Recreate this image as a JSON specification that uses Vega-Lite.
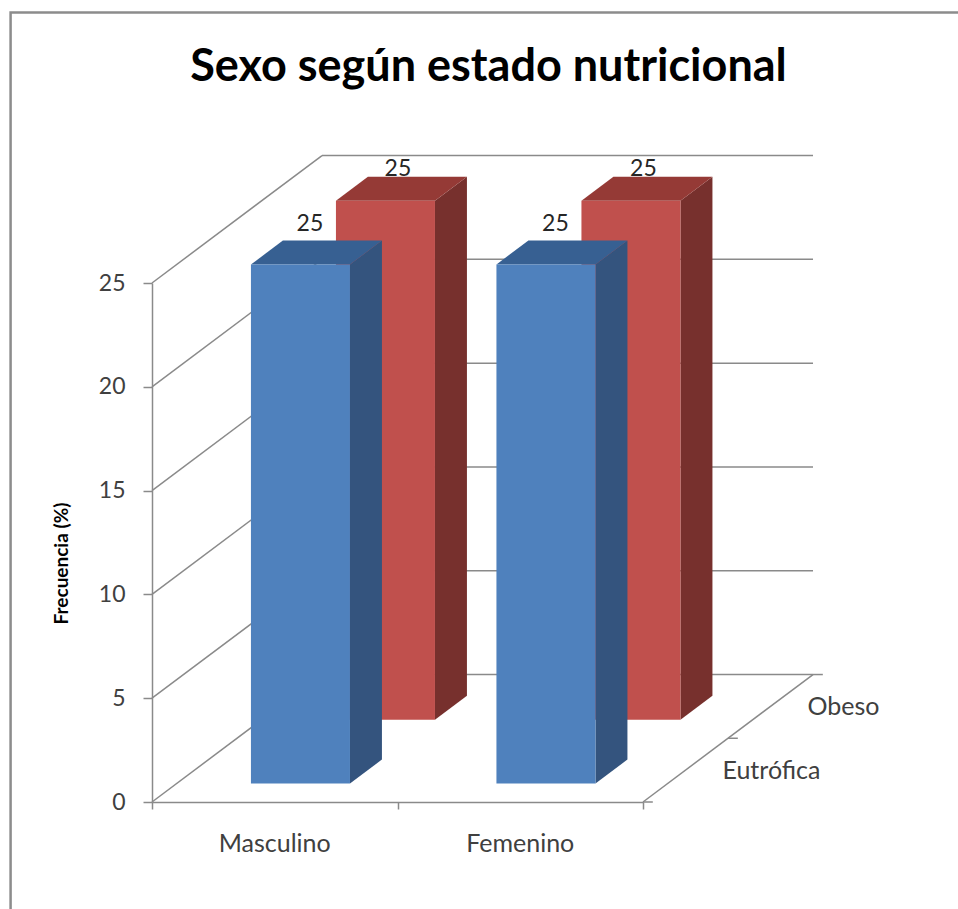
{
  "$schema": "https://vega.github.io/schema/vega-lite/v6.json",
  "autosize": "none",
  "width": 491,
  "height": 519,
  "padding": {"left": 152, "top": 283, "right": 315, "bottom": 107},
  "background": "white",
  "title": {
    "text": "Sexo según estado nutricional",
    "font": "Lato",
    "fontSize": 45,
    "fontWeight": "bold",
    "color": "#000000",
    "anchor": "middle",
    "dx": 91,
    "offset": -79
  },
  "config": {
    "view": {"stroke": null},
    "text": {"font": "Lato"},
    "rule": {"stroke": "#8a8a8a", "strokeWidth": 1.5}
  },
  "layer": [
    {
      "data": {"values": [{"marco": "borde"}]},
      "mark": {"type": "rect", "fill": null, "stroke": "#8c8c8c", "strokeWidth": 2.5},
      "encoding": {
        "x": {
          "datum": -0.576,
          "type": "quantitative",
          "scale": {"domain": [0, 2], "nice": false, "zero": false},
          "axis": {
            "title": null,
            "values": [0, 1, 2],
            "labels": false,
            "grid": false,
            "tickSize": 7,
            "tickWidth": 1.5,
            "tickColor": "#8a8a8a",
            "domainColor": "#8a8a8a",
            "domainWidth": 1.5
          }
        },
        "x2": {"datum": 4},
        "y": {
          "datum": 38.03,
          "type": "quantitative",
          "scale": {"domain": [0, 25], "nice": false, "zero": false},
          "axis": {
            "title": "Frecuencia (%)",
            "titleFont": "Lato",
            "titleFontSize": 19,
            "titleFontWeight": "bold",
            "titleColor": "#000000",
            "titleX": -81,
            "titleY": 280,
            "values": [0, 5, 10, 15, 20, 25],
            "grid": false,
            "tickSize": 9,
            "tickWidth": 1.5,
            "tickColor": "#8a8a8a",
            "domainColor": "#8a8a8a",
            "domainWidth": 1.5,
            "labelFont": "Lato",
            "labelFontSize": 23,
            "labelColor": "#404040",
            "labelPadding": 18
          }
        },
        "y2": {"datum": -7}
      }
    },
    {
      "data": {"values": [{"nivel": 0}, {"nivel": 5}, {"nivel": 10}, {"nivel": 15}, {"nivel": 20}, {"nivel": 25}]},
      "transform": [
        {"calculate": "0", "as": "frente"},
        {"calculate": "0.6925", "as": "fondo"},
        {"calculate": "2.6925", "as": "fondoDer"},
        {"calculate": "datum.nivel + 6.14", "as": "nivelFondo"}
      ],
      "layer": [
        {
          "mark": "rule",
          "encoding": {
            "x": {"field": "frente", "type": "quantitative"},
            "x2": {"field": "fondo"},
            "y": {"field": "nivel", "type": "quantitative"},
            "y2": {"field": "nivelFondo"}
          }
        },
        {
          "mark": "rule",
          "encoding": {
            "x": {"field": "fondo", "type": "quantitative"},
            "x2": {"field": "fondoDer"},
            "y": {"field": "nivelFondo", "type": "quantitative"}
          }
        }
      ]
    },
    {
      "data": {"values": [{"prof": 0}, {"prof": 0.5}, {"prof": 1}]},
      "transform": [
        {"calculate": "2 + 0.6925 * datum.prof", "as": "xBorde"},
        {"calculate": "datum.xBorde + 0.04", "as": "xMarca"},
        {"calculate": "6.14 * datum.prof", "as": "yBorde"},
        {"calculate": "2", "as": "xInicio"},
        {"calculate": "2.6925", "as": "xFin"},
        {"calculate": "0", "as": "yInicio"},
        {"calculate": "6.14", "as": "yFin"}
      ],
      "layer": [
        {
          "mark": "rule",
          "encoding": {
            "x": {"field": "xBorde", "type": "quantitative"},
            "x2": {"field": "xMarca"},
            "y": {"field": "yBorde", "type": "quantitative"}
          }
        },
        {
          "transform": [{"filter": "datum.prof === 0"}],
          "mark": "rule",
          "encoding": {
            "x": {"field": "xInicio", "type": "quantitative"},
            "x2": {"field": "xFin"},
            "y": {"field": "yInicio", "type": "quantitative"},
            "y2": {"field": "yFin"}
          }
        }
      ]
    },
    {
      "data": {
        "values": [
          {"sexo": "Masculino", "estado": "Eutrófica", "frecuencia": 25},
          {"sexo": "Masculino", "estado": "Obeso", "frecuencia": 25},
          {"sexo": "Femenino", "estado": "Eutrófica", "frecuencia": 25},
          {"sexo": "Femenino", "estado": "Obeso", "frecuencia": 25}
        ]
      },
      "transform": [
        {"calculate": "datum.sexo === 'Masculino' ? 0 : 1", "as": "cat"},
        {"calculate": "datum.estado === 'Obeso' ? 0.75 : 0.25", "as": "centroProf"},
        {"calculate": "datum.centroProf - 0.105", "as": "prof"},
        {"calculate": "[0, 1]", "as": "t"},
        {"flatten": ["t"]},
        {"calculate": "datum.prof + 0.188 * datum.t", "as": "pt"},
        {"calculate": "datum.cat + 0.3026 + 0.6925 * datum.pt", "as": "xIzq"},
        {"calculate": "datum.cat + 0.706 + 0.6925 * datum.pt", "as": "xDer"},
        {"calculate": "6.14 * datum.pt", "as": "yBase"},
        {"calculate": "datum.frecuencia + 6.14 * datum.pt", "as": "yTope"},
        {"calculate": "datum.cat + 0.5", "as": "xCat"},
        {"calculate": "0", "as": "cero"},
        {"calculate": "2 + 0.6925 * datum.centroProf", "as": "xEstado"},
        {"calculate": "6.14 * datum.centroProf", "as": "yEstado"}
      ],
      "layer": [
        {
          "transform": [{"filter": "datum.estado === 'Obeso'"}],
          "layer": [
            {
              "mark": {"type": "area", "orient": "vertical", "color": "#77302d"},
              "encoding": {
                "detail": {"field": "sexo"},
                "x": {"field": "xDer", "type": "quantitative"},
                "y": {"field": "yBase", "type": "quantitative", "stack": null},
                "y2": {"field": "yTope"}
              }
            },
            {
              "mark": {"type": "area", "orient": "horizontal", "color": "#953a36"},
              "encoding": {
                "detail": {"field": "sexo"},
                "y": {"field": "yTope", "type": "quantitative"},
                "x": {"field": "xIzq", "type": "quantitative", "stack": null},
                "x2": {"field": "xDer"}
              }
            },
            {
              "transform": [{"filter": "datum.t === 0"}],
              "mark": {"type": "rect", "color": "#c0504d"},
              "encoding": {
                "x": {"field": "xIzq", "type": "quantitative"},
                "x2": {"field": "xDer"},
                "y": {"field": "yBase", "type": "quantitative"},
                "y2": {"field": "yTope"}
              }
            },
            {
              "transform": [{"filter": "datum.t === 0"}],
              "mark": {"type": "text", "fontSize": 23, "color": "#262626", "align": "center", "baseline": "middle", "dx": 62, "dy": -32},
              "encoding": {
                "text": {"field": "frecuencia", "type": "quantitative"},
                "x": {"field": "xIzq", "type": "quantitative"},
                "y": {"field": "yTope", "type": "quantitative"}
              }
            }
          ]
        },
        {
          "transform": [{"filter": "datum.estado === 'Eutrófica'"}],
          "layer": [
            {
              "mark": {"type": "area", "orient": "vertical", "color": "#34547e"},
              "encoding": {
                "detail": {"field": "sexo"},
                "x": {"field": "xDer", "type": "quantitative"},
                "y": {"field": "yBase", "type": "quantitative", "stack": null},
                "y2": {"field": "yTope"}
              }
            },
            {
              "mark": {"type": "area", "orient": "horizontal", "color": "#376092"},
              "encoding": {
                "detail": {"field": "sexo"},
                "y": {"field": "yTope", "type": "quantitative"},
                "x": {"field": "xIzq", "type": "quantitative", "stack": null},
                "x2": {"field": "xDer"}
              }
            },
            {
              "transform": [{"filter": "datum.t === 0"}],
              "mark": {"type": "rect", "color": "#4f81bd"},
              "encoding": {
                "x": {"field": "xIzq", "type": "quantitative"},
                "x2": {"field": "xDer"},
                "y": {"field": "yBase", "type": "quantitative"},
                "y2": {"field": "yTope"}
              }
            },
            {
              "transform": [{"filter": "datum.t === 0"}],
              "mark": {"type": "text", "fontSize": 23, "color": "#262626", "align": "center", "baseline": "middle", "dx": 59, "dy": -41},
              "encoding": {
                "text": {"field": "frecuencia", "type": "quantitative"},
                "x": {"field": "xIzq", "type": "quantitative"},
                "y": {"field": "yTope", "type": "quantitative"}
              }
            },
            {
              "transform": [{"filter": "datum.t === 0"}],
              "mark": {"type": "text", "fontSize": 25, "color": "#404040", "align": "center", "baseline": "middle", "dy": 42},
              "encoding": {
                "text": {"field": "sexo"},
                "x": {"field": "xCat", "type": "quantitative"},
                "y": {"field": "cero", "type": "quantitative"}
              }
            }
          ]
        },
        {
          "transform": [{"filter": "datum.t === 0 && datum.sexo === 'Masculino'"}],
          "mark": {"type": "text", "fontSize": 25, "color": "#404040", "align": "left", "baseline": "middle", "dx": 37, "dy": 1},
          "encoding": {
            "text": {"field": "estado"},
            "x": {"field": "xEstado", "type": "quantitative"},
            "y": {"field": "yEstado", "type": "quantitative"}
          }
        }
      ]
    }
  ]
}
